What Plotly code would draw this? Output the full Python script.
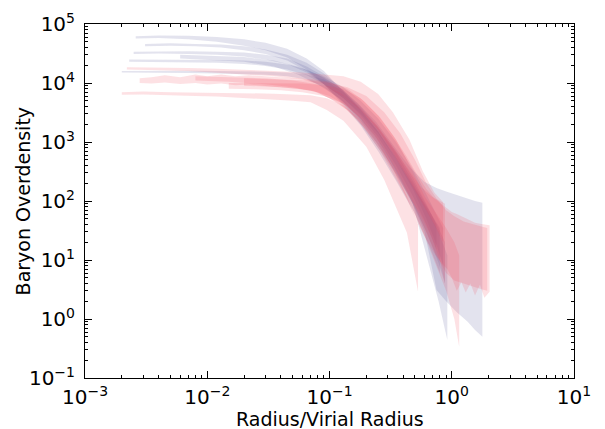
import plotly.graph_objects as go

# ---------------- data ----------------
# each band: radius (r/Rvir), lower and upper baryon overdensity
blue_bands = [
    dict(x=[0.0026,0.004,0.007,0.012,0.02,0.03,0.045,0.065,0.09,0.13,0.18,0.25,0.35,0.5,0.65,0.8],
         lo=[5.7e4,5.8e4,5.5e4,5.0e4,4.3e4,3.6e4,2.7e4,1.7e4,9.5e3,4.2e3,1.9e3,7.0e2,2.2e2,60,18,6],
         hi=[6.2e4,6.4e4,6.3e4,6.0e4,5.5e4,4.8e4,3.8e4,2.6e4,1.6e4,7.0e3,3.5e3,1.5e3,5.0e2,1.6e2,70,35]),
    dict(x=[0.0031,0.005,0.008,0.013,0.02,0.03,0.045,0.065,0.09,0.13,0.18,0.25,0.35,0.48,0.62,0.78,0.92],
         lo=[4.2e4,4.3e4,4.2e4,4.0e4,3.6e4,3.1e4,2.4e4,1.6e4,9.5e3,4.5e3,2.0e3,8.0e2,2.8e2,90,12,2.0,0.44],
         hi=[4.6e4,4.7e4,4.6e4,4.5e4,4.2e4,3.7e4,3.0e4,2.2e4,1.45e4,7.5e3,3.6e3,1.5e3,5.5e2,2.0e2,75,30,12]),
    dict(x=[0.0025,0.004,0.007,0.012,0.02,0.03,0.045,0.065,0.09,0.13,0.18,0.25,0.35,0.48,0.62,0.75,0.85],
         lo=[3.1e4,3.15e4,3.1e4,3.0e4,2.8e4,2.5e4,2.1e4,1.5e4,9.5e3,5.5e3,3.0e3,1.4e3,5.0e2,1.6e2,50,18,8],
         hi=[3.4e4,3.45e4,3.45e4,3.4e4,3.3e4,3.0e4,2.6e4,1.9e4,1.3e4,8.5e3,5.0e3,2.5e3,1.0e3,3.5e2,1.3e2,60,35]),
    dict(x=[0.0023,0.004,0.007,0.012,0.02,0.03,0.045,0.065,0.09,0.13,0.18,0.25,0.35,0.48,0.62,0.75],
         lo=[2.3e4,2.3e4,2.25e4,2.2e4,2.1e4,1.95e4,1.7e4,1.35e4,9.5e3,5.5e3,2.8e3,1.2e3,4.0e2,1.2e2,40,15],
         hi=[2.5e4,2.5e4,2.5e4,2.45e4,2.4e4,2.3e4,2.05e4,1.7e4,1.25e4,7.5e3,4.0e3,1.8e3,7.0e2,2.5e2,90,40]),
    dict(x=[0.002,0.004,0.007,0.012,0.02,0.03,0.045,0.065,0.09,0.13,0.18,0.25,0.35,0.48,0.62,0.78,0.88],
         lo=[1.5e4,1.5e4,1.48e4,1.45e4,1.42e4,1.38e4,1.3e4,1.15e4,8.5e3,4.8e3,2.3e3,9.0e2,3.0e2,90,30,9,4],
         hi=[1.6e4,1.62e4,1.62e4,1.6e4,1.58e4,1.55e4,1.5e4,1.4e4,1.15e4,7.0e3,3.8e3,1.7e3,6.5e2,2.2e2,85,35,20]),
    dict(x=[0.006,0.01,0.02,0.035,0.055,0.08,0.12,0.17,0.24,0.33,0.45,0.6,0.75,0.9,1.1,1.35,1.55,1.78],
         lo=[2.6e4,2.5e4,2.3e4,1.9e4,1.4e4,9.5e3,5.5e3,2.8e3,1.2e3,4.0e2,1.2e2,30,3.1,2.0,1.3,0.9,0.65,0.5],
         hi=[3.0e4,2.9e4,2.75e4,2.4e4,1.9e4,1.4e4,8.5e3,4.6e3,2.2e3,9.0e2,3.8e2,2.1e2,1.66e2,1.45e2,1.25e2,1.1e2,1.0e2,93]),
]

red_bands = [
    dict(x=[0.0022,0.004,0.007,0.012,0.02,0.035,0.06,0.09,0.13,0.18,0.25,0.33,0.45,0.58,0.72,0.85],
         lo=[1.7e4,1.65e4,1.6e4,1.5e4,1.4e4,1.3e4,1.15e4,9.0e3,6.0e3,3.5e3,1.6e3,6.5e2,2.2e2,90,40,20],
         hi=[1.85e4,1.85e4,1.8e4,1.75e4,1.7e4,1.6e4,1.5e4,1.4e4,1.3e4,1.05e4,6.5e3,3.2e3,1.1e3,3.2e2,1.4e2,95]),
    dict(x=[0.0028,0.0035,0.0045,0.006,0.008,0.01,0.013,0.017,0.022,0.03,0.04,0.055,0.075,0.1,0.14,0.19,0.26,0.35,0.47,0.6,0.75,0.9,1.05,1.15],
         lo=[1.0e4,9.8e3,1.02e4,9.6e3,1.0e4,9.4e3,9.8e3,9.2e3,9.4e3,8.8e3,8.5e3,8.0e3,7.2e3,5.5e3,3.5e3,1.8e3,7.0e2,2.4e2,80,25,8,3,1,0.34],
         hi=[1.2e4,1.25e4,1.35e4,1.25e4,1.4e4,1.3e4,1.4e4,1.3e4,1.35e4,1.3e4,1.25e4,1.2e4,1.15e4,1.05e4,8.0e3,5.0e3,2.6e3,1.1e3,3.5e2,1.2e2,60,35,20,12]),
    dict(x=[0.002,0.003,0.005,0.008,0.012,0.018,0.025,0.035,0.05,0.07,0.095,0.13,0.2,0.28,0.35,0.43,0.53],
         lo=[6.3e3,6.4e3,6.2e3,6.0e3,5.9e3,5.7e3,5.5e3,5.2e3,5.0e3,4.7e3,3.5e3,2.3e3,8.3e2,2.3e2,81,29,2.9],
         hi=[7.0e3,7.2e3,7.0e3,6.9e3,6.8e3,6.8e3,6.7e3,6.6e3,6.4e3,6.2e3,5.5e3,4.2e3,2.0e3,7.0e2,3.0e2,1.2e2,40]),
    dict(x=[0.015,0.025,0.04,0.06,0.09,0.13,0.18,0.25,0.33,0.42,0.52,0.62,0.72,0.82,0.92,1.0,1.1,1.2,1.3,1.42,1.55,1.7,1.85,2.04],
         lo=[8.0e3,7.8e3,7.5e3,7.0e3,6.0e3,4.5e3,2.5e3,1.0e3,3.5e2,1.2e2,45,22,13,9,7,5,3,4.2,2.8,4.0,2.5,3.8,2.3,2.9],
         hi=[1.0e4,1.0e4,1.0e4,9.8e3,9.2e3,8.0e3,5.5e3,2.8e3,1.3e3,6.0e2,2.8e2,1.6e2,1.1e2,90,75,65,60,55,50,46,43,41,40,39]),
    dict(x=[0.008,0.015,0.03,0.05,0.08,0.12,0.17,0.24,0.32,0.42,0.55,0.68,0.8,0.88],
         lo=[1.1e4,1.05e4,9.5e3,8.5e3,7.0e3,4.5e3,2.4e3,1.0e3,4.0e2,1.5e2,60,25,10,4],
         hi=[1.3e4,1.25e4,1.2e4,1.1e4,9.5e3,7.0e3,4.0e3,2.0e3,9.0e2,4.0e2,1.8e2,1.2e2,1.0e2,90]),
    dict(x=[0.02,0.04,0.07,0.1,0.14,0.2,0.28,0.38,0.5,0.62,0.75,0.9,1.05,1.25,1.5,1.75,1.95],
         lo=[9.0e3,8.5e3,7.5e3,6.0e3,4.0e3,2.0e3,7.5e2,2.5e2,80,30,12,6,4.5,4.0,3.5,3.2,3.0],
         hi=[1.2e4,1.15e4,1.1e4,1.0e4,8.5e3,6.0e3,3.2e3,1.4e3,5.0e2,2.0e2,1.1e2,70,55,45,40,37,35]),
]

x_tickvals = [1e-3, 1e-2, 1e-1, 1e0, 1e1]
x_ticktext = ["10<sup>\u22123</sup>", "10<sup>\u22122</sup>", "10<sup>\u22121</sup>", "10<sup>0</sup>", "10<sup>1</sup>"]
y_tickvals = [1e-1, 1e0, 1e1, 1e2, 1e3, 1e4, 1e5]
y_ticktext = ["10<sup>\u22121</sup>", "10<sup>0</sup>", "10<sup>1</sup>", "10<sup>2</sup>",
              "10<sup>3</sup>", "10<sup>4</sup>", "10<sup>5</sup>"]
x_title = "Radius/Virial Radius"
y_title = "Baryon Overdensity"

BLUE = "rgba(80,80,150,0.16)"
RED = "rgba(240,70,85,0.16)"

fig = go.Figure()
for bands, col in ((blue_bands, BLUE), (red_bands, RED)):
    for b in bands:
        fig.add_trace(go.Scatter(
            x=b["x"] + b["x"][::-1],
            y=b["hi"] + b["lo"][::-1],
            fill="toself", fillcolor=col, mode="lines",
            line=dict(width=0), hoverinfo="skip", showlegend=False))

def minor_vals(lo_exp, hi_exp):
    return [m * 10 ** e for e in range(lo_exp, hi_exp) for m in range(2, 10)]

title_font = dict(family="DejaVu Sans", size=19, color="black")
tick_font = dict(family="DejaVu Sans", size=20, color="black")
axis_common = dict(type="log", showgrid=False, zeroline=False, showline=True,
                   linecolor="black", linewidth=1, mirror="allticks",
                   ticks="inside", ticklen=7, tickwidth=1, tickcolor="black",
                   tickfont=tick_font, automargin=False)

fig.update_xaxes(range=[-3, 1], tickvals=x_tickvals, ticktext=x_ticktext,
                 minor=dict(tickvals=minor_vals(-3, 1), ticks="inside", ticklen=3,
                            tickcolor="black"),
                 ticklabelstandoff=1, **axis_common)
fig.update_yaxes(range=[-1, 5], tickvals=y_tickvals, ticktext=y_ticktext,
                 minor=dict(tickvals=minor_vals(-1, 5), ticks="inside", ticklen=3,
                            tickcolor="black"),
                 ticklabelstandoff=5, **axis_common)

# axis titles placed as annotations (plot area: x 85..574 px, y 24..378 px)
fig.add_annotation(text=x_title, xref="paper", yref="paper", x=0.5, y=-0.116,
                   xanchor="center", yanchor="middle", showarrow=False, font=title_font)
fig.add_annotation(text=y_title, xref="paper", yref="paper", x=-0.126, y=0.5,
                   xanchor="center", yanchor="middle", textangle=-90,
                   showarrow=False, font=title_font)

fig.update_layout(width=605, height=429,
                  margin=dict(l=85, r=31, t=24, b=51, autoexpand=False),
                  paper_bgcolor="white", plot_bgcolor="white",
                  font=title_font)

fig.write_html("out.html")
